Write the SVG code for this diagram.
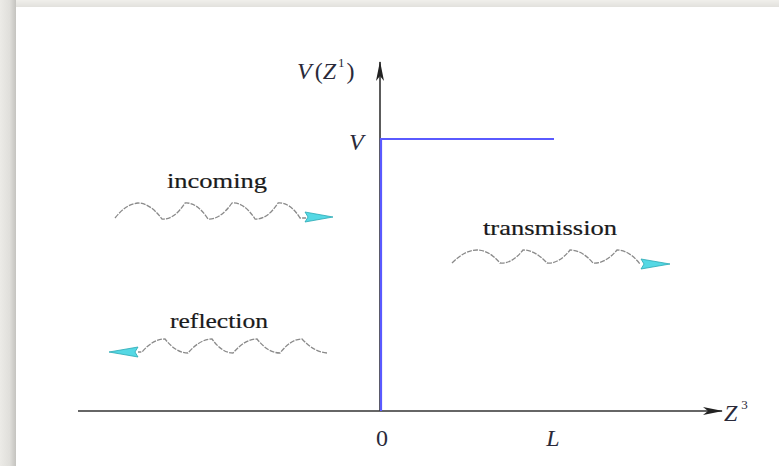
<svg xmlns="http://www.w3.org/2000/svg" width="779" height="466" viewBox="0 0 779 466">
<defs>
<linearGradient id="lshadow" x1="0" y1="0" x2="1" y2="0">
<stop offset="0" stop-color="#ecebe7"/>
<stop offset="0.6" stop-color="#e0dfdb"/>
<stop offset="1" stop-color="#c4c3bf"/>
</linearGradient>
<linearGradient id="tshadow" x1="0" y1="0" x2="0" y2="1">
<stop offset="0" stop-color="#f0efeb"/>
<stop offset="1" stop-color="#e2e1dd"/>
</linearGradient>
<marker id="axhead" viewBox="0 0 20 10" refX="19" refY="5" markerWidth="20" markerHeight="10" markerUnits="userSpaceOnUse" orient="auto">
<path d="M0,1 L20,5 L0,9 L5,5 Z" fill="#222"/>
</marker>
</defs>
<style>
.txt{font-family:"Liberation Serif","DejaVu Serif",serif;fill:#1a1a1a;font-size:21px;stroke:#1a1a1a;stroke-width:0.2}
.math{font-family:"Liberation Serif","DejaVu Serif",serif;font-style:italic;fill:#2a2a3a;font-size:24px}
.up{font-style:normal}
.axis{stroke:#333;stroke-width:1.6;fill:none}
.pot{stroke:#5a5aff;stroke-width:2.2;fill:none}
.wave{stroke:#8a8a8a;stroke-width:1.3;fill:none;stroke-dasharray:5 1.2}
.head{fill:#55d8e4;stroke:#2aa8b4;stroke-width:0.8}
</style>
<rect x="0" y="0" width="779" height="466" fill="#ffffff"/>
<rect x="0" y="0" width="779" height="7" fill="url(#tshadow)"/>
<rect x="0" y="0" width="16" height="466" fill="url(#lshadow)"/>

<g id="axes">
<line class="axis" x1="78" y1="411" x2="722" y2="411" marker-end="url(#axhead)"/>
<line class="axis" x1="380" y1="411" x2="380" y2="62" marker-end="url(#axhead)"/>
</g>

<g id="potential">
<path class="pot" d="M381,411 L381,139 L554,139"/>
</g>

<g id="labels">
<text class="math" x="297" y="79">V<tspan class="up" dx="3">(</tspan>Z<tspan class="up" font-size="13" dy="-12" dx="2">1</tspan><tspan class="up" dy="12" dx="2">)</tspan></text>
<text class="math" x="349" y="150">V</text>
<text class="math up" x="382" y="446" text-anchor="middle">0</text>
<text class="math" x="553" y="446" text-anchor="middle">L</text>
<text class="math" x="724" y="421">Z<tspan class="up" font-size="13" dy="-12" dx="4">3</tspan></text>
</g>

<g id="incoming">
<text class="txt" x="167" y="188" textLength="100" lengthAdjust="spacingAndGlyphs">incoming</text>
<path class="wave" d="M115,218 Q126,204 138,203 Q150,203 162,219 Q174,220 185,203 Q197,202 208,219 Q220,220 232,203 Q244,202 255,219 Q267,220 278,203 Q290,202 300,218 L306,218"/>
<path class="head" d="M333,217 L305,212 L308,217 L305,222 Z"/>
</g>

<g id="reflection">
<text class="txt" x="170" y="328" textLength="98" lengthAdjust="spacingAndGlyphs">reflection</text>
<path class="wave" d="M327,353 Q314,352 302,339 Q291,339 280,353 Q268,353 257,339 Q245,339 233,353 Q222,353 212,339 Q200,339 188,353 Q176,353 165,339 Q153,339 142,352 L138,352"/>
<path class="head" d="M109,352 L138,347 L135,352 L138,357 Z"/>
</g>

<g id="transmission">
<text class="txt" x="483" y="235" textLength="134" lengthAdjust="spacingAndGlyphs">transmission</text>
<path class="wave" d="M452,263 Q465,250 477,250 Q489,250 500,263 Q512,264 523,250 Q535,250 547,263 Q559,264 570,250 Q582,250 593,263 Q605,264 617,250 Q629,250 640,264"/>
<path class="head" d="M670,264 L641,259 L644,264 L641,269 Z"/>
</g>
</svg>
